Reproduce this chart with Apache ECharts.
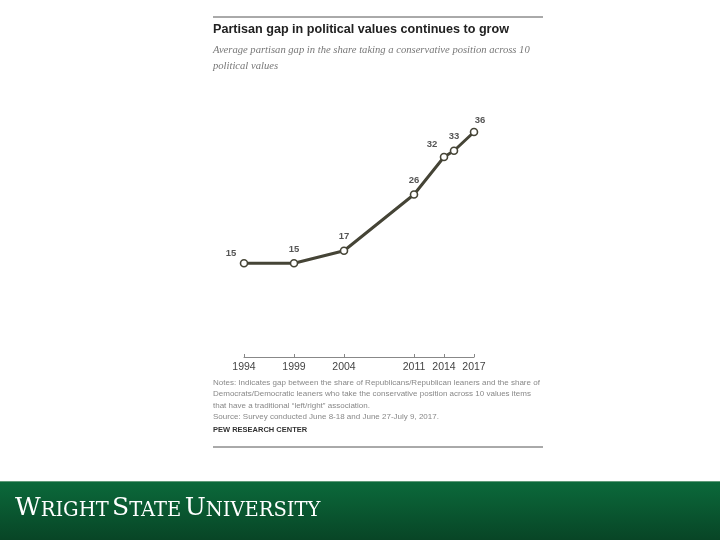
<!DOCTYPE html>
<html><head><meta charset="utf-8">
<script src="https://cdn.jsdelivr.net/npm/echarts@6/dist/echarts.min.js"></script>
<style>html,body{margin:0;padding:0;background:#fff}#c{width:720px;height:540px}</style>
</head><body><div id="c"></div>
<script>
var years = [1994, 1999, 2004, 2011, 2014, 2015, 2017];
var gap = [15, 15, 17, 26, 32, 33, 36];
var tickYears = [1994, 1999, 2004, 2011, 2014, 2017];
var titleText = 'Partisan gap in political values continues to grow';
var subtitleText = 'Average partisan gap in the share taking a conservative position across 10\npolitical values';
var notesText = 'Notes: Indicates gap between the share of Republicans/Republican leaners and the share of\nDemocrats/Democratic leaners who take the conservative position across 10 values items\nthat have a traditional \u201cleft/right\u201d association.\nSource: Survey conducted June 8-18 and June 27-July 9, 2017.';
var sourceText = 'PEW RESEARCH CENTER';

var labelOffsets = [[-13, 4], [0, 0], [0, 0], [0, 0], [-12, 2], [0, 0], [6, 3]];
var data = years.map(function (y, i) {
  return { value: [y, gap[i]], label: { offset: labelOffsets[i] } };
});

var chart = echarts.init(document.getElementById('c'), null, { renderer: 'canvas' });
chart.setOption({
  animation: false,
  backgroundColor: '#fff',
  grid: { left: 244, width: 230, top: 107, height: 250 },
  xAxis: {
    type: 'value', min: 1994, max: 2017,
    splitLine: { show: false },
    axisLine: { show: true, lineStyle: { color: '#888', width: 1 } },
    axisTick: { show: true, inside: true, length: 3, lineStyle: { color: '#888' }, customValues: tickYears },
    axisLabel: { color: '#444', fontSize: 10.5, fontFamily: 'Liberation Sans', margin: 5, customValues: tickYears, formatter: function (v) { return String(v); } }
  },
  yAxis: { type: 'value', min: 0, max: 40, show: false },
  series: [{
    type: 'line', data: data,
    lineStyle: { color: '#454436', width: 3 },
    itemStyle: { color: '#fff', borderColor: '#454436', borderWidth: 1.6 },
    symbol: 'circle', symbolSize: 7,
    label: { show: true, position: 'top', distance: 5, color: '#555', fontSize: 9.5, fontWeight: 'bold', fontFamily: 'Liberation Sans' }
  }],
  graphic: [
    { type: 'line', shape: { x1: 213, y1: 17, x2: 543, y2: 17 }, style: { stroke: '#555', lineWidth: 1 } },
    { type: 'text', left: 213, top: 23, style: { text: titleText, font: 'bold 12.6px "Liberation Sans"', fill: '#222' } },
    { type: 'text', left: 213, top: 42, style: { text: subtitleText, font: 'italic 10.6px "Liberation Serif"', fill: '#777', lineHeight: 16 } },
    { type: 'text', left: 213, top: 377, style: { text: notesText, font: '8px "Liberation Sans"', fill: '#888', lineHeight: 11.5 } },
    { type: 'text', left: 213, top: 426, style: { text: sourceText, font: 'bold 7.5px "Liberation Sans"', fill: '#333' } },
    { type: 'line', shape: { x1: 213, y1: 447, x2: 543, y2: 447 }, style: { stroke: '#555', lineWidth: 1 } },
    { type: 'rect', shape: { x: 0, y: 481, width: 720, height: 59 }, style: { fill: new echarts.graphic.LinearGradient(0, 0, 0, 1, [{ offset: 0, color: '#0b6a3b' }, { offset: 1, color: '#084526' }]) } },
    { type: 'line', shape: { x1: 0, y1: 481.5, x2: 720, y2: 481.5 }, style: { stroke: '#5f9a78', lineWidth: 1 } },
    { type: 'text', left: 15, top: 496, style: {
      text: '{b|W}{s|RIGHT} {b|S}{s|TATE} {b|U}{s|NIVERSITY}',
      rich: {
        b: { font: '25px "DejaVu Serif"', fill: '#fff', verticalAlign: 'bottom' },
        s: { font: '19.5px "DejaVu Serif"', fill: '#fff', verticalAlign: 'bottom' }
      }
    } }
  ]
});
</script></body></html>
